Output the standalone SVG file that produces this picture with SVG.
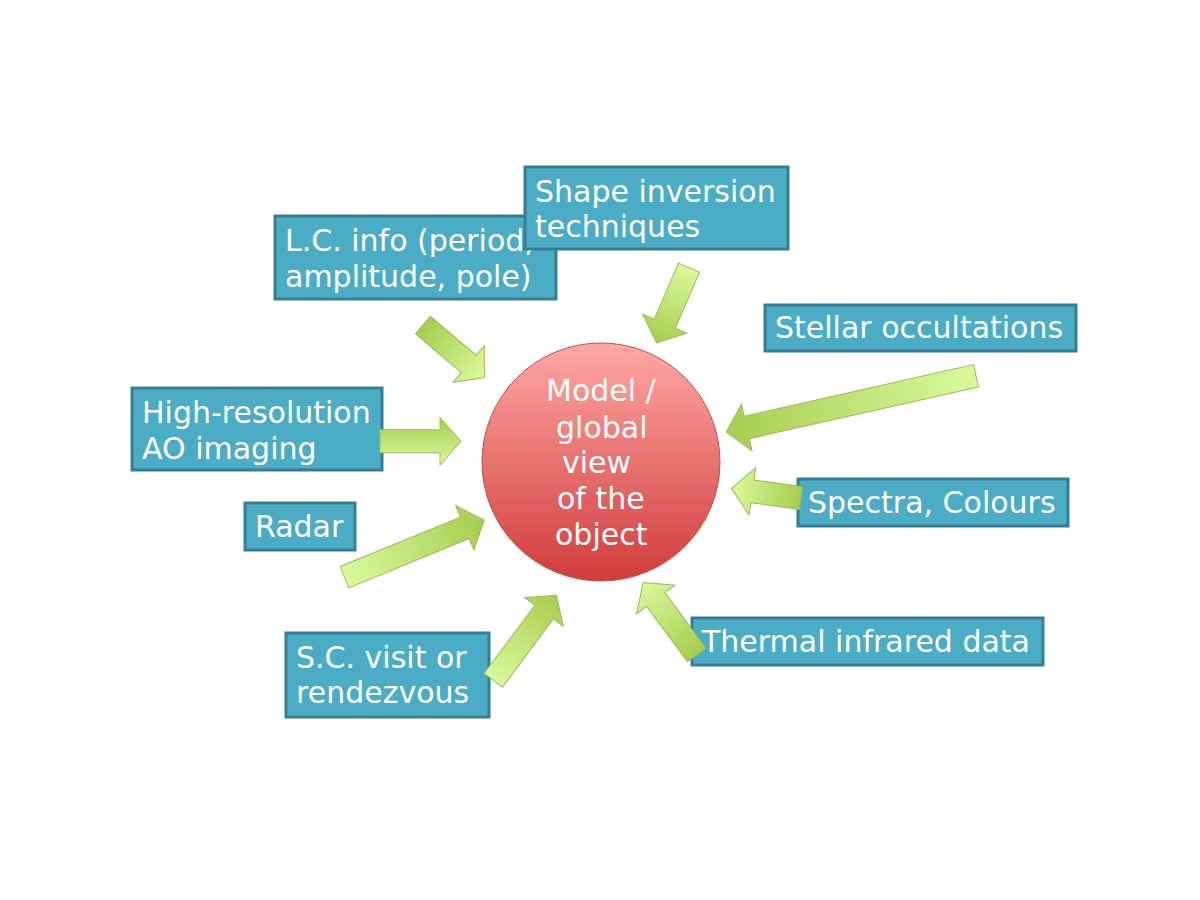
<svg xmlns="http://www.w3.org/2000/svg" width="1200" height="900" viewBox="0 0 1200 900">
<defs>
<linearGradient id="gTailDark" x1="0" y1="0" x2="1" y2="0"><stop offset="0" stop-color="#A6CD4E"/><stop offset="1" stop-color="#D8FA9C"/></linearGradient>
<linearGradient id="gTailLight" x1="0" y1="0" x2="1" y2="0"><stop offset="0" stop-color="#D8FA9C"/><stop offset="1" stop-color="#A6CD4E"/></linearGradient>
<linearGradient id="gVert" x1="0" y1="0" x2="0" y2="1"><stop offset="0" stop-color="#A6CD4E"/><stop offset="1" stop-color="#D8FA9C"/></linearGradient>
<linearGradient id="gCircle" x1="0" y1="0" x2="0" y2="1"><stop offset="0" stop-color="#FFA8A5"/><stop offset="1" stop-color="#D03C3B"/></linearGradient>
<style>
.box{fill:#4BACC6;stroke:#367E92;stroke-width:3}
.t{font-family:"DejaVu Sans","Liberation Sans",sans-serif;font-size:30px;fill:#FFFFFF}
.arr{stroke:#9BBB59;stroke-width:1}
</style>
</defs>
<g id="node-lc"><rect class="box" x="275" y="216" width="281" height="83"/><text class="t" x="285" y="251">L.C. info (period,</text><text class="t" x="285" y="287">amplitude, pole)</text></g>
<g id="node-shape"><rect class="box" x="525" y="167" width="263" height="82"/><text class="t" x="535" y="202">Shape inversion</text><text class="t" x="535" y="237">techniques</text></g>
<g id="node-stellar"><rect class="box" x="765" y="305" width="311" height="46"/><text class="t" x="775" y="338">Stellar occultations</text></g>
<g id="node-highres"><rect class="box" x="132" y="388" width="250" height="82"/><text class="t" x="142" y="423">High-resolution</text><text class="t" x="142" y="459">AO imaging</text></g>
<g id="node-radar"><rect class="box" x="245" y="503" width="110" height="47"/><text class="t" x="255" y="537">Radar</text></g>
<g id="node-spectra"><rect class="box" x="798" y="479" width="270" height="47"/><text class="t" x="808" y="513">Spectra, Colours</text></g>
<g id="node-thermal"><rect class="box" x="692" y="618" width="351" height="47"/><text class="t" x="702" y="652">Thermal infrared data</text></g>
<g id="node-sc"><rect class="box" x="286" y="633" width="203" height="84"/><text class="t" x="296" y="668">S.C. visit or</text><text class="t" x="296" y="703">rendezvous</text></g>
<g id="node-model"><circle cx="601" cy="462" r="119" fill="url(#gCircle)" stroke="#C0504D" stroke-width="1"/>
<text class="t" x="546" y="401">Model /</text><text class="t" x="556" y="438">global</text><text class="t" x="562" y="473">view</text><text class="t" x="557" y="509">of the</text><text class="t" x="555" y="545">object</text></g>
<g id="connectors">
<polygon class="arr" fill="url(#gTailDark)" transform="translate(423,325) rotate(40.5)" points="0,-11.5 60,-11.5 60,-24 81,0 60,24 60,11.5 0,11.5"/>
<polygon class="arr" fill="url(#gTailLight)" transform="translate(689,267.7) rotate(113.4)" points="0,-11.5 61,-11.5 61,-24 82,0 61,24 61,11.5 0,11.5"/>
<polygon class="arr" fill="url(#gTailLight)" transform="translate(976,375.8) rotate(167.3)" points="0,-11.5 235,-11.5 235,-24 256,0 235,24 235,11.5 0,11.5"/>
<polygon class="arr" fill="url(#gTailDark)" transform="translate(801,498) rotate(187.7)" points="0,-11.5 49,-11.5 49,-24 70,0 49,24 49,11.5 0,11.5"/>
<polygon class="arr" fill="url(#gTailDark)" transform="translate(696.7,655) rotate(233.6)" points="0,-11.5 69,-11.5 69,-24 90,0 69,24 69,11.5 0,11.5"/>
<polygon class="arr" fill="url(#gTailLight)" transform="translate(493.3,680.3) rotate(-53.4)" points="0,-11.5 85,-11.5 85,-24 106,0 85,24 85,11.5 0,11.5"/>
<polygon class="arr" fill="url(#gTailLight)" transform="translate(344.5,577.2) rotate(-22.3)" points="0,-11.5 130,-11.5 130,-24 151,0 130,24 130,11.5 0,11.5"/>
<polygon class="arr" fill="url(#gVert)" transform="translate(380,441.3)" points="0,-11.5 60,-11.5 60,-24 81,0 60,24 60,11.5 0,11.5"/>
</g>
</svg>
